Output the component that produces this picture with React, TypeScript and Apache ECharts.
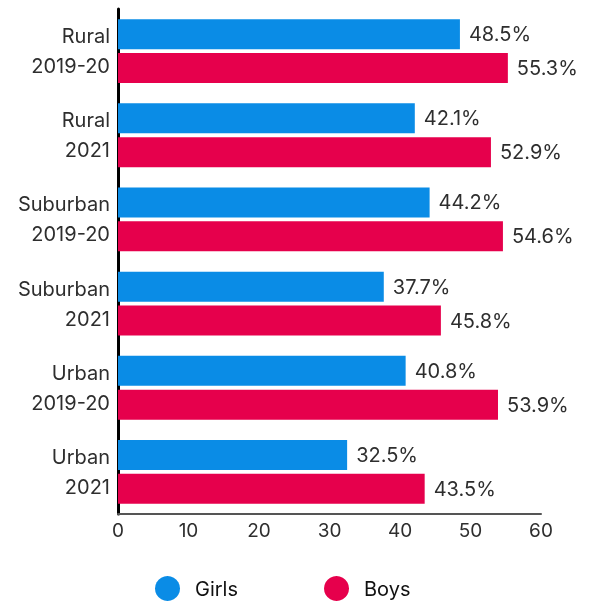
import React, { useEffect, useRef } from "react";
import * as echarts from "echarts";

const categories = [
  "Rural\n2019-20",
  "Rural\n2021",
  "Suburban\n2019-20",
  "Suburban\n2021",
  "Urban\n2019-20",
  "Urban\n2021",
];
const girls = [48.5, 42.1, 44.2, 37.7, 40.8, 32.5];
const boys = [55.3, 52.9, 54.6, 45.8, 53.9, 43.5];

const FONT = "Inter, 'Noto Sans', sans-serif";
const TEXT = "#2e2e2e";

export default function App() {
  const ref = useRef<HTMLDivElement>(null);
  useEffect(() => {
    if (!ref.current) return;
    const chart = echarts.init(ref.current, undefined, { renderer: "svg" });
    const label = {
      show: true,
      position: "right" as const,
      distance: 9,
      color: TEXT,
      fontSize: 20,
      fontFamily: FONT,
      formatter: (p: any) => p.value.toFixed(1) + "%",
    };
    chart.setOption({
      animation: false,
      grid: { left: 118, right: 50, top: 9, bottom: 87, containLabel: false },
      legend: {
        bottom: -5,
        left: 150,
        icon: "circle",
        itemWidth: 25,
        itemHeight: 25,
        itemGap: 86,
        textStyle: {
          fontSize: 20,
          fontFamily: FONT,
          color: "#111",
          padding: [0, 0, 0, 10],
        },
        data: ["Girls", "Boys"],
      },
      xAxis: {
        type: "value",
        min: 0,
        max: 60,
        interval: 10,
        splitLine: { show: false },
        axisLine: { show: true, lineStyle: { color: "#555", width: 2 } },
        axisTick: { show: false },
        axisLabel: { color: TEXT, fontSize: 19, fontFamily: FONT, margin: 7 },
      },
      yAxis: {
        type: "category",
        data: categories,
        inverse: true,
        axisLine: { show: true, lineStyle: { color: "#000", width: 3 } },
        axisTick: { show: false },
        axisLabel: {
          color: TEXT,
          fontSize: 20,
          fontFamily: FONT,
          lineHeight: 30,
          margin: 8,
          align: "right",
        },
      },
      series: [
        {
          name: "Girls",
          type: "bar",
          data: girls,
          barWidth: 30,
          barGap: "13%",
          itemStyle: { color: "#0A8CE6" },
          label,
        },
        {
          name: "Boys",
          type: "bar",
          data: boys,
          barWidth: 30,
          itemStyle: { color: "#E6004C" },
          label,
        },
      ],
    });
    return () => chart.dispose();
  }, []);
  return (
    <div
      ref={ref}
      style={{ position: "fixed", left: 0, top: 0, width: 591, height: 601 }}
    />
  );
}
